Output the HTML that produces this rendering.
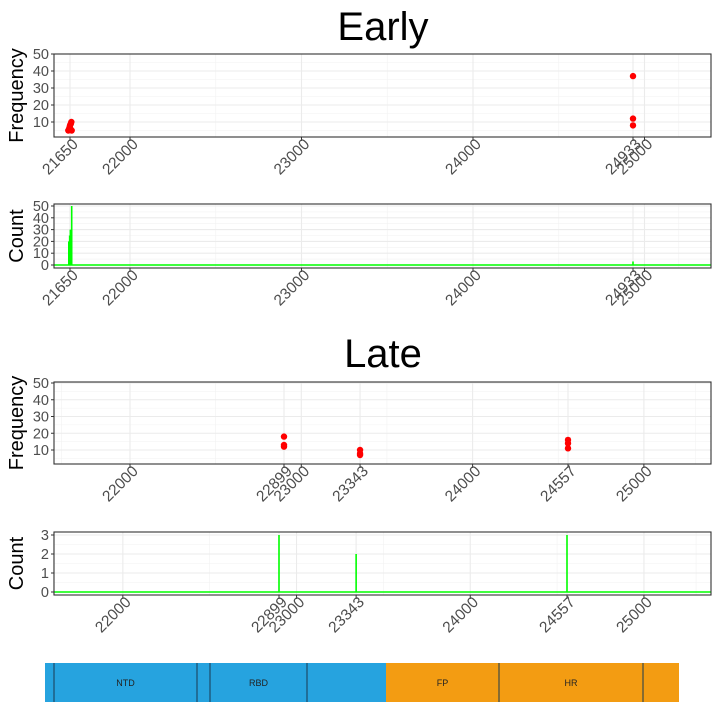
<!DOCTYPE html>
<html><head><meta charset="utf-8"><style>
body{margin:0;background:#fff;font-family:"Liberation Sans",sans-serif}
svg text{font-family:"Liberation Sans",sans-serif}
</style></head><body>
<svg id="s" width="725" height="709" xmlns="http://www.w3.org/2000/svg">
<text x="383" y="40" font-size="40" text-anchor="middle">Early</text>
<text x="383" y="367" font-size="40" text-anchor="middle">Late</text>
</svg>
<script>
const earlyFreqX=[21640,21645,21648,21650,21652,21655,21658,21660,24933,24933,24933];
const earlyFreqY=[5,6,7,8,6,9,10,5,37,12,8];
const earlyCountX=[21643,21648,21652,21660,24933];
const earlyCountY=[20,25,30,50,3];
const earlyBreaks=[21650,22000,23000,24000,24933,25000];
const lateFreqX=[22899,22899,22899,23343,23343,23343,24557,24557,24557];
const lateFreqY=[18,13,12,10,8,7,16,14,11];
const lateCountX=[22899,23343,24557];
const lateCountY=[3,2,3];
const lateBreaks=[22000,22899,23000,23343,24000,24557,25000];
const freqTicks=[10,20,30,40,50];
const earlyCountTicks=[0,10,20,30,40,50];
const lateCountTicks=[0,1,2,3];
const domains=["","NTD","","RBD","","FP","HR",""];
const domainStarts=[45,54,197,210,307,386,499,643];
const domainEnds=[54,197,210,307,386,499,643,679];

const S=document.getElementById('s');
const NS='http://www.w3.org/2000/svg';
function el(t,a,p){const e=document.createElementNS(NS,t);for(const k in a)e.setAttribute(k,a[k]);(p||S).appendChild(e);return e;}
function lin(d0,d1,r0,r1){return v=>r0+(v-d0)/(d1-d0)*(r1-r0);}

function panel(name,top,bot,xs,ys,yTicks,yTitle,breaks,minors,kind,px,py){
  const L=54,R=711;
  const g=el('g',{});
  
  
  minors.forEach(m=>{const x=xs(m);el('line',{x1:x,x2:x,y1:top,y2:bot,stroke:'#f2f2f2','stroke-width':0.6},g);});
  for(let i=0;i<yTicks.length-1;i++){const y=ys((yTicks[i]+yTicks[i+1])/2);el('line',{x1:L,x2:R,y1:y,y2:y,stroke:'#f2f2f2','stroke-width':0.6},g);}
  if(yTicks[0]>0){const y=ys(yTicks[0]-(yTicks[1]-yTicks[0])/2);if(y<bot)el('line',{x1:L,x2:R,y1:y,y2:y,stroke:'#f2f2f2','stroke-width':0.6},g);}
  yTicks.forEach(t=>{const y=ys(t);el('line',{x1:L,x2:R,y1:y,y2:y,stroke:'#ebebeb','stroke-width':1.1},g);
    el('line',{x1:L-3,x2:L,y1:y,y2:y,stroke:'#333','stroke-width':1},g);
    const tx=el('text',{x:L-5,y:y+5,'font-size':14.5,fill:'#4d4d4d','text-anchor':'end'},g);tx.textContent=t;
    
    });
  breaks.forEach(b=>{const x=xs(b);el('line',{x1:x,x2:x,y1:top,y2:bot,stroke:'#ebebeb','stroke-width':1.1},g);
    el('line',{x1:x,x2:x,y1:bot,y2:bot+4,stroke:'#333','stroke-width':1},g);
    const ax=x+9,ay=bot+8;
    const tx=el('text',{x:ax,y:ay,'font-size':15.5,fill:'#4d4d4d','text-anchor':'end',transform:`rotate(-45 ${ax} ${ay})`},g);tx.textContent=b;
    
    });
  if(kind==='pt'){px.forEach((v,i)=>{const c=el('circle',{cx:xs(v),cy:ys(py[i]),r:3.2,fill:'#ff0000'},g);
    
    });}
  else{const y0=ys(0);
    el('line',{x1:L,x2:R,y1:y0,y2:y0,stroke:'#00ff00','stroke-width':1.5},g);
    px.forEach((v,i)=>{const b=el('line',{x1:xs(v),x2:xs(v),y1:y0,y2:ys(py[i]),stroke:'#00ff00','stroke-width':1.6},g);
    
    });}
  el('rect',{x:L,y:top,width:R-L,height:bot-top,fill:'none',stroke:'#333','stroke-width':1.1},g);
  const cy=(top+bot)/2;
  const t=el('text',{x:23,y:cy,'font-size':20,'text-anchor':'middle',transform:`rotate(-90 23 ${cy})`},g);t.textContent=yTitle;
  
  
}
const eX=lin(21650,24933,70,633);
panel('early-frequency-panel',54,137,eX,lin(10,50,122,54),freqTicks,'Frequency',earlyBreaks,[22500,23500,24500,25200],'pt',earlyFreqX,earlyFreqY);
panel('early-count-panel',204,268,eX,lin(0,50,265,206),earlyCountTicks,'Count',earlyBreaks,[22500,23500,24500,25200],'bar',earlyCountX,earlyCountY);
panel('late-frequency-panel',382,464,lin(22899,24557,284,568),lin(10,50,450,383),freqTicks,'Frequency',lateBreaks,[21600,22500,23500,24500,25300],'pt',lateFreqX,lateFreqY);
panel('late-count-panel',532,595,lin(22899,24557,279,567),lin(0,3,592,535),lateCountTicks,'Count',lateBreaks,[21600,22500,23500,24500,25300],'bar',lateCountX,lateCountY);

const dg=el('g',{});


domains.forEach((d,i)=>{const x0=domainStarts[i],x1=domainEnds[i];
  const r=el('rect',{x:x0,y:663,width:x1-x0,height:39,fill:x0>=386?'#f39c12':'#26a3df'},dg);
  
  
  if(i>0&&x0!==386)el('line',{x1:x0,x2:x0,y1:663,y2:702,stroke:'#1a3a50','stroke-width':1},dg);
  if(d){const t=el('text',{x:(x0+x1)/2,y:686,'font-size':9,'text-anchor':'middle',fill:'#222'},dg);t.textContent=d;
    
    }
});
</script>
</body></html>
